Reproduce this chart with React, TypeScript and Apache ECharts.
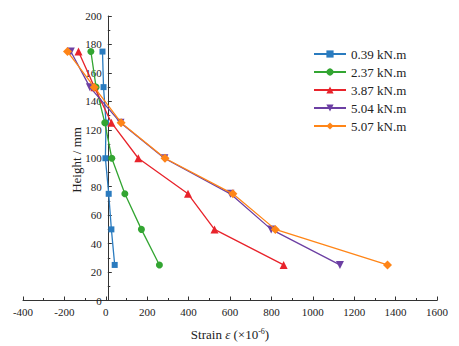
import React, { useEffect, useRef } from "react";
import * as echarts from "echarts";

const heights = [175, 150, 125, 100, 75, 50, 25];
const seriesNames = ["0.39 kN.m", "2.37 kN.m", "3.87 kN.m", "5.04 kN.m", "5.07 kN.m"];
const strain039 = [-16, -11, 1, -2, 14, 27, 43];
const strain237 = [-72, -47, -5, 29, 92, 172, 259];
const strain387 = [-132, -55, 27, 157, 397, 525, 859];
const strain504 = [-169, -77, 71, 283, 602, 799, 1131];
const strain507 = [-185, -56, 74, 286, 614, 819, 1361];
const colors = ["#2a7bbf", "#33a532", "#e8232b", "#6c3fa3", "#ff8517"];
const symbols = ["rect", "circle", "triangle", "triangle", "diamond"];
const symbolRotates = [0, 0, 0, 180, 0];
const symbolSizes = [6, 7, 8, 8, 9];
const yAxisTitle = "Height / mm";

const FONT = '"Liberation Serif", "Times New Roman", serif';
const GRID_LEFT = 23;

export default function App() {
  const ref = useRef<HTMLDivElement>(null);
  useEffect(() => {
    if (!ref.current) return;
    const chart = echarts.init(ref.current, null, { renderer: "svg" });
    const allStrains = [strain039, strain237, strain387, strain504, strain507];
    chart.setOption({
      animation: false,
      textStyle: { fontFamily: FONT },
      grid: { left: GRID_LEFT, right: 22, top: 16, bottom: 42, containLabel: false },
      legend: {
        orient: "vertical",
        left: 313,
        top: 47,
        padding: 0,
        itemWidth: 32,
        itemHeight: 9,
        itemGap: 4,
        textStyle: { fontFamily: FONT, fontSize: 13, color: "#222", lineHeight: 14 },
        data: seriesNames,
      },
      graphic: [
        {
          type: "text",
          x: 76,
          y: 160,
          rotation: Math.PI / 2,
          style: {
            text: yAxisTitle,
            font: '13px "Liberation Serif", "Times New Roman", serif',
            fill: "#222",
            align: "center",
            verticalAlign: "middle",
          },
        },
      ],
      xAxis: {
        type: "value",
        min: -400,
        max: 1600,
        interval: 200,
        name: "Strain {it|ε} (×10{sup|-6})",
        nameLocation: "middle",
        nameGap: 27,
        nameTextStyle: {
          fontFamily: FONT,
          fontSize: 13,
          color: "#222",
          rich: {
            it: { fontFamily: FONT, fontSize: 13, fontStyle: "italic", color: "#222" },
            sup: { fontFamily: FONT, fontSize: 8, color: "#222", verticalAlign: "top", padding: [0, 0, 6, 0] },
          },
        },
        axisLine: { show: true, onZero: false, lineStyle: { color: "#333", width: 1 } },
        axisTick: { show: true, inside: true, length: 4, lineStyle: { color: "#333" } },
        minorTick: { show: true, splitNumber: 2, length: 2.5, lineStyle: { color: "#333" } },
        axisLabel: { fontFamily: FONT, fontSize: 11, color: "#222", margin: 6, formatter: (v: number) => String(v) },
        splitLine: { show: false },
        minorSplitLine: { show: false },
      },
      yAxis: {
        type: "value",
        min: 0,
        max: 200,
        interval: 20,
        axisLine: { show: true, onZero: false, lineStyle: { color: "#333", width: 1 } },
        axisTick: { show: true, inside: true, length: 4, lineStyle: { color: "#333" } },
        minorTick: { show: true, splitNumber: 2, length: 2.5, lineStyle: { color: "#333" } },
        axisLabel: { fontFamily: FONT, fontSize: 11, color: "#222", margin: 6, formatter: (v: number) => String(v) },
        splitLine: { show: false },
        minorSplitLine: { show: false },
      },
      series: seriesNames.map((name, i) => ({
        name,
        type: "line",
        data: allStrains[i].map((s, j) => [s, heights[j]]),
        symbol: symbols[i],
        symbolSize: symbolSizes[i],
        symbolRotate: symbolRotates[i],
        showAllSymbol: true,
        color: colors[i],
        lineStyle: { color: colors[i], width: 1.3 },
        itemStyle: { color: colors[i] },
        z: 2 + i,
      })),
    });
    const zeroPx = chart.convertToPixel({ xAxisIndex: 0 }, 0) as number;
    if (typeof zeroPx === "number" && isFinite(zeroPx)) {
      chart.setOption({ yAxis: { offset: -(zeroPx - GRID_LEFT) } });
    }
    return () => chart.dispose();
  }, []);
  return <div ref={ref} style={{ width: 459, height: 346, position: "absolute", left: 0, top: 0 }} />;
}
